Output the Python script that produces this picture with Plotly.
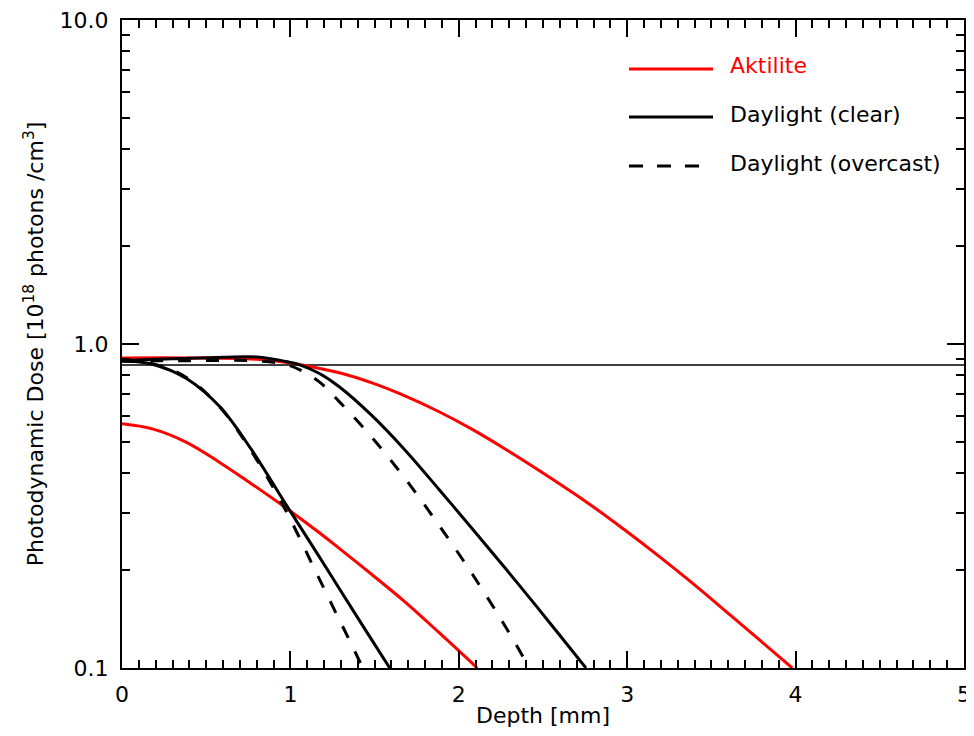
import plotly.graph_objects as go

# ---------------- data ----------------
aktilite_a_x = [0, 0.4, 0.77, 0.97, 1.06, 1.29, 1.48, 1.68, 1.88, 2.08, 2.27, 2.47, 2.77, 2.98, 3.18, 3.38, 3.57, 3.77, 3.98]
aktilite_a_y = [0.906, 0.906, 0.899, 0.879, 0.863, 0.815, 0.760, 0.692, 0.619, 0.545, 0.476, 0.409, 0.322, 0.268, 0.223, 0.184, 0.152, 0.124, 0.100]

aktilite_b_x = [0, 0.18, 0.38, 0.58, 0.77, 0.97, 1.17, 1.29, 1.48, 1.68, 1.88, 2.11]
aktilite_b_y = [0.567, 0.547, 0.498, 0.431, 0.370, 0.313, 0.262, 0.234, 0.195, 0.160, 0.129, 0.100]

clear_a_x = [0, 0.3, 0.6, 0.8, 0.97, 1.06, 1.17, 1.29, 1.48, 1.68, 1.88, 2.08, 2.27, 2.47, 2.59, 2.755]
clear_a_y = [0.890, 0.900, 0.910, 0.912, 0.884, 0.861, 0.812, 0.738, 0.604, 0.471, 0.357, 0.269, 0.205, 0.153, 0.128, 0.100]

clear_b_x = [0, 0.18, 0.38, 0.58, 0.77, 0.97, 1.17, 1.29, 1.45, 1.59]
clear_b_y = [0.890, 0.866, 0.784, 0.641, 0.471, 0.322, 0.221, 0.176, 0.130, 0.100]

overcast_a_x = [0, 0.4, 0.8, 0.97, 1.06, 1.17, 1.29, 1.48, 1.68, 1.88, 2.08, 2.27, 2.42]
overcast_a_y = [0.887, 0.888, 0.887, 0.865, 0.831, 0.765, 0.664, 0.518, 0.385, 0.277, 0.195, 0.136, 0.100]

overcast_b_x = [0, 0.18, 0.38, 0.58, 0.77, 0.97, 1.17, 1.27, 1.35, 1.43]
overcast_b_y = [0.885, 0.870, 0.790, 0.640, 0.465, 0.308, 0.189, 0.148, 0.122, 0.100]

threshold_x = [0, 5]
threshold_y = [0.861, 0.861]

legend_names = ["Aktilite", "Daylight (clear)", "Daylight (overcast)"]
legend_colors = ["#ff0000", "#000000", "#000000"]

x_tick_vals = [0, 1, 2, 3, 4, 5]
x_tick_text = ["0", "1", "2", "3", "4", "5"]
y_tick_vals = [0.1, 1, 10]
y_tick_text = ["0.1", "1.0", "10.0"]
y_minor_vals = [0.2, 0.3, 0.4, 0.5, 0.6, 0.7, 0.8, 0.9, 2, 3, 4, 5, 6, 7, 8, 9]

# ---------------- figure ----------------
FONT = "DejaVu Sans, Liberation Sans, Arial, sans-serif"
FS = 22
RED = "#ff0000"
DASH = "13px,15px"

fig = go.Figure()

fig.add_trace(go.Scatter(x=threshold_x, y=threshold_y, mode="lines",
                         line=dict(color="black", width=1.5), showlegend=False, hoverinfo="skip"))

curves = [
    (aktilite_a_x, aktilite_a_y, RED, "solid"),
    (aktilite_b_x, aktilite_b_y, RED, "solid"),
    (clear_a_x, clear_a_y, "black", "solid"),
    (clear_b_x, clear_b_y, "black", "solid"),
    (overcast_a_x, overcast_a_y, "black", DASH),
    (overcast_b_x, overcast_b_y, "black", DASH),
]
for cx, cy, col, dash in curves:
    fig.add_trace(go.Scatter(x=cx, y=cy, mode="lines",
                             line=dict(color=col, width=3, dash=dash, shape="spline", smoothing=1.0),
                             showlegend=False))

# The page body has an 8px default margin; the figure is sized/offset so the page does not overflow.
OFF = 8
FIG_W, FIG_H = 974 - OFF, 736 - 2 * OFF
# target plot box in window pixels
L, R, T, B = 122, 964, 20, 668
W, H = R - L, B - T
def px(xp):
    return (xp - L) / W
def py(yp):
    return (B - yp) / H

leg_line_y = [69, 117, 166]
leg_text_y = [66, 115, 163]
leg_dash = ["solid", "solid", "14px,14px"]
shapes = []
annotations = []
for i, name in enumerate(legend_names):
    shapes.append(dict(type="line", xref="paper", yref="paper",
                       x0=px(629), x1=px(713), y0=py(leg_line_y[i]), y1=py(leg_line_y[i]),
                       line=dict(color=legend_colors[i], width=3, dash=leg_dash[i])))
    annotations.append(dict(xref="paper", yref="paper", x=px(728), y=py(leg_text_y[i]),
                            xanchor="left", yanchor="middle", showarrow=False, text=name,
                            font=dict(family=FONT, size=FS, color=legend_colors[i])))

fig.update_layout(
    width=FIG_W, height=FIG_H,
    margin=dict(l=L - OFF, r=FIG_W - (R - OFF), t=T - OFF, b=FIG_H - (B - OFF), autoexpand=False),
    paper_bgcolor="white", plot_bgcolor="white",
    font=dict(family=FONT, size=FS, color="black"),
    shapes=shapes, annotations=annotations,
    showlegend=False,
)

axis_common = dict(
    showline=True, linecolor="black", linewidth=2, mirror="ticks",
    ticks="inside", ticklen=17, tickwidth=1.5, tickcolor="black",
    showgrid=False, zeroline=False, automargin=False, ticklabeloverflow="allow",
    tickfont=dict(family=FONT, size=FS, color="black"),
)

fig.update_xaxes(
    range=[0, 5], tickmode="array", tickvals=x_tick_vals, ticktext=x_tick_text,
    minor=dict(ticks="inside", ticklen=8, tickwidth=1.5, tickcolor="black", dtick=0.1, showgrid=False),
    title=dict(text="Depth [mm]", font=dict(family=FONT, size=FS), standoff=3),
    ticklabelstandoff=6,
    **axis_common,
)
fig.update_yaxes(
    type="log", range=[-1, 1], tickmode="array", tickvals=y_tick_vals, ticktext=y_tick_text,
    minor=dict(ticks="inside", ticklen=8, tickwidth=1.5, tickcolor="black",
               tickmode="array", tickvals=y_minor_vals, showgrid=False),
    title=dict(text="Photodynamic Dose [10<sup>18</sup> photons /cm<sup>3</sup>]",
               font=dict(family=FONT, size=FS), standoff=10),
    ticklabelstandoff=7,
    **axis_common,
)

fig.write_html("out.html")
